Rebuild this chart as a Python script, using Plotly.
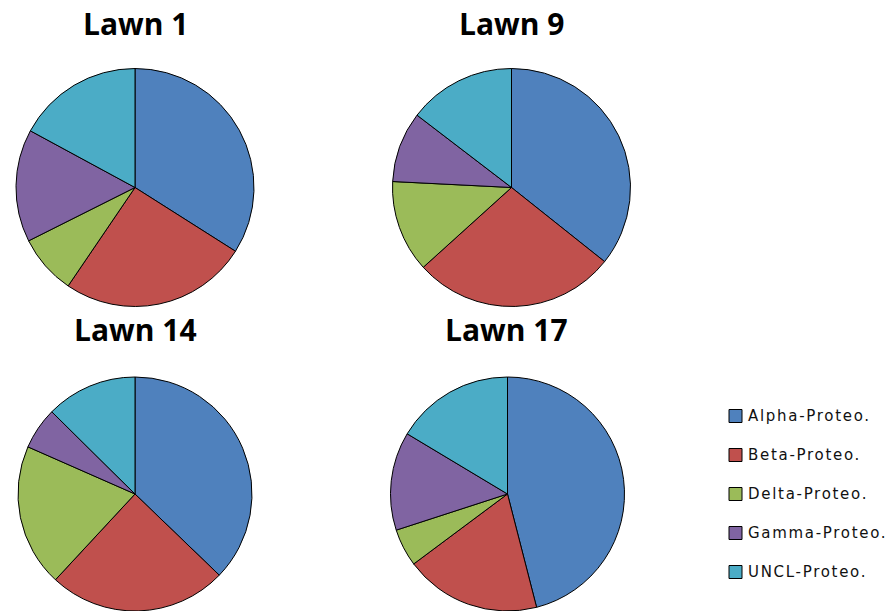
import plotly.graph_objects as go

W, H = 892, 611

categories = ["Alpha-Proteo.", "Beta-Proteo.", "Delta-Proteo.", "Gamma-Proteo.", "UNCL-Proteo."]
colors = ["#4F81BD", "#C0504D", "#9BBB59", "#8064A2", "#4BACC6"]

lawn_names = ["Lawn 1", "Lawn 9", "Lawn 14", "Lawn 17"]
lawn1 = [34.0, 25.5, 8.1, 15.3, 17.1]
lawn9 = [35.7, 27.6, 12.5, 9.6, 14.6]
lawn14 = [37.2, 24.7, 19.7, 5.8, 12.6]
lawn17 = [46.0, 18.8, 5.2, 13.6, 16.4]
lawn_values = [lawn1, lawn9, lawn14, lawn17]

# pixel layout: pie centres, radii, title positions
centers = [(135, 187.5), (511.5, 187.5), (135, 494), (507.5, 494)]
radii = [119, 119, 117, 117]
title_pos = [(135, 23), (511, 23), (135, 329.5), (506, 329.5)]

fig = go.Figure()
for name, vals, (cx, cy), r in zip(lawn_names, lawn_values, centers, radii):
    y0 = max(0.0, 1 - (cy + r) / H)
    y1 = min(1.0, 1 - (cy - r) / H)
    fig.add_trace(go.Pie(
        labels=categories,
        values=vals,
        name=name,
        sort=False,
        direction="clockwise",
        rotation=0,
        textinfo="none",
        hoverinfo="label+percent",
        marker=dict(colors=colors, line=dict(color="#000000", width=1)),
        domain=dict(x=[(cx - r) / W, (cx + r) / W], y=[y0, y1]),
        showlegend=False,
    ))

annotations = []
for name, (tx, ty) in zip(lawn_names, title_pos):
    annotations.append(dict(
        x=tx / W, y=1 - ty / H, xref="paper", yref="paper",
        text="<b>" + name + "</b>", showarrow=False,
        xanchor="center", yanchor="middle",
        font=dict(family="Open Sans", size=30, color="#000000"),
    ))

# legend: coloured squares with labels
shapes = []
leg_x, leg_y0, leg_dy, sq = 729, 416, 39, 13
for i, (lab, col) in enumerate(zip(categories, colors)):
    y = leg_y0 + i * leg_dy
    shapes.append(dict(
        type="rect", xref="paper", yref="paper",
        x0=leg_x / W, x1=(leg_x + sq) / W,
        y0=1 - (y + sq / 2) / H, y1=1 - (y - sq / 2) / H,
        fillcolor=col, line=dict(color="#000000", width=1),
    ))
    annotations.append(dict(
        x=(leg_x + sq + 4) / W, y=1 - y / H, xref="paper", yref="paper",
        text='<span style="letter-spacing:1.7px">' + lab + "</span>",
        showarrow=False, xanchor="left", yanchor="middle",
        font=dict(family="DejaVu Sans", size=15, color="#111111"),
    ))

fig.update_layout(
    width=W, height=H,
    margin=dict(l=0, r=0, t=0, b=0),
    paper_bgcolor="#FFFFFF",
    plot_bgcolor="#FFFFFF",
    annotations=annotations,
    shapes=shapes,
)

fig.write_html("out.html")
